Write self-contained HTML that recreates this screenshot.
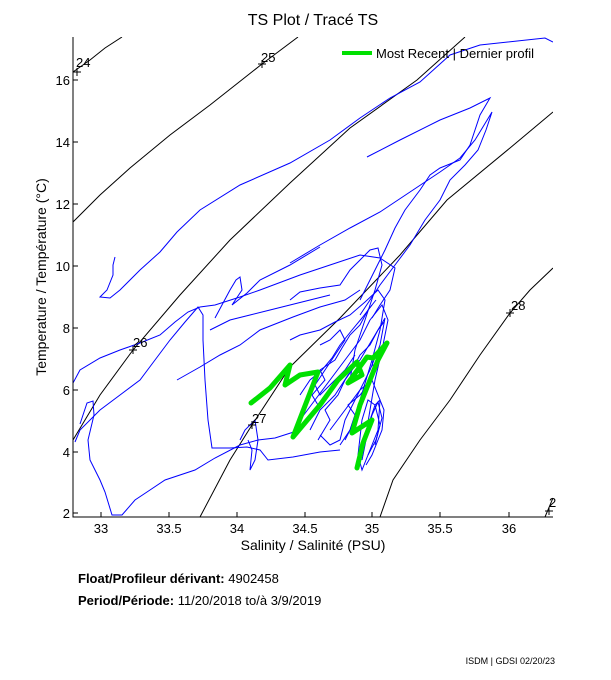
<!DOCTYPE html>
<html><head><meta charset="utf-8"><style>
body{margin:0;background:#fff;width:611px;height:675px;overflow:hidden;font-family:"Liberation Sans",sans-serif}
</style></head><body>
<svg width="611" height="675" xmlns="http://www.w3.org/2000/svg" font-family="Liberation Sans, sans-serif">
<rect width="611" height="675" fill="#fff"/>
<text x="313" y="25" font-size="16" text-anchor="middle">TS Plot / Tracé TS</text>
<defs><clipPath id="c"><rect x="73" y="37" width="480" height="480"/></clipPath></defs>
<g clip-path="url(#c)" fill="none">
<g stroke="#000" stroke-width="1">
<polyline points="73,72 90,60 105,48 122,37"/>
<polyline points="73,222 100,195 130,168 170,135 210,105 262,64 298,37"/>
<polyline points="73,440 100,395 133,350 180,295 230,240 290,183 350,128 417,80 465,37"/>
<polyline points="200,517 230,460 252,425 290,367 340,318 400,255 447,200 510,148 553,112"/>
<polyline points="380,517 393,480 420,440 450,400 480,355 510,313 530,290 553,268"/>
<polyline points="545,517 553,498"/>
</g>
<g stroke="#00f" stroke-width="1">
<polyline points="115,257 113,265 113,275 107,290 100,297 110,298 120,290 140,270 160,252 177,232 200,210 240,185 290,163 330,140 360,118 390,98 420,82 450,55 480,45 545,38 553,42"/>
<polyline points="367,157 400,140 440,120 470,108 490,98 480,115 475,130 470,145 460,160 440,168 430,175 420,190 405,210 395,228 385,250 375,270 365,290 360,300"/>
<polyline points="290,263 320,245 350,228 380,212 410,192 440,172 460,158 475,140 492,112 486,130 478,150 465,165 450,180 440,200 425,220 410,245 395,265 380,285 370,300 360,315"/>
<polyline points="73,383 80,370 100,358 120,350 140,343 160,335 175,322 188,312 200,307 215,305 240,297 260,290 300,275 330,265 360,255 380,258 395,268 390,290 380,305 372,318"/>
<polyline points="75,442 80,430 100,410 120,395 140,380 155,360 170,340 185,322 198,307 203,315 203,340 205,380 208,420 212,448 230,448 247,447 260,450 268,460 293,457 320,452 340,450"/>
<polyline points="80,424 87,403 93,401 94,415 88,440 90,460 100,480 105,492 112,515 122,515 135,500 150,490 165,480 195,470 215,458 240,445 258,440 275,438 300,430"/>
<polyline points="177,380 200,367 220,355 240,345 260,330 293,317 320,307 345,300 360,290"/>
<polyline points="215,318 230,290 236,280 240,277 242,290 232,305 247,293 260,280 290,265 320,247"/>
<polyline points="290,300 300,292 320,288 340,285 350,270 360,260 370,250 378,248 382,265 375,290 365,320 355,350 350,380"/>
<polyline points="290,340 300,335 320,330 335,322 350,315 365,302 378,290 385,300 380,330 372,360 360,400 350,430 345,440"/>
<polyline points="300,420 315,400 330,380 345,360 360,340 370,320 382,305 388,320 382,350 375,380 370,410 365,440 360,460"/>
<polyline points="310,430 320,410 335,395 348,375 360,360 375,335 385,318 380,345 370,370 355,400 345,420 340,440 330,445 320,435"/>
<polyline points="330,430 345,410 360,390 372,380 380,400 378,430 370,450 362,470 358,455 362,420 368,400 375,405 380,425 375,445"/>
<polyline points="240,440 245,430 255,420 258,440 255,460 250,470 252,450 248,440"/>
<polyline points="320,345 330,340 340,330 345,340 335,355 325,370 315,385 320,395 330,385 345,370 355,355"/>
<polyline points="210,330 230,320 250,315 270,310 290,305 310,300 330,295"/>
<polyline points="310,420 318,405 312,395 325,380 320,370 335,360 342,348 350,335 360,325 368,310 376,300"/>
<polyline points="318,440 330,420 325,410 338,395 345,380 352,370 360,355 370,345 378,330 384,322"/>
<polyline points="340,445 350,430 355,415 348,405 360,395 368,385 374,372 372,360 380,350"/>
<polyline points="362,460 366,440 370,420 375,405 380,400 384,410 382,430 378,440 372,455 366,465"/>
<polyline points="358,468 362,450 368,430 372,415 378,402 382,418 376,440 368,455"/>
<polyline points="300,395 310,380 322,370 332,358 340,345 352,330 362,318 372,305"/>
</g>
<polyline fill="none" stroke="#00e000" stroke-width="5" stroke-linejoin="round" stroke-linecap="round" points="251,403 270,388 290,365 285,385 300,375 318,372 293,437 320,405 338,380 357,362 362,375 348,383 367,357 373,358 387,343 378,360 370,380 360,405 352,433 372,420 363,443 357,468"/>
</g>
<g stroke="#000" stroke-width="1" fill="none">
<path d="M73,37V517H553"/>
<path d="M101,517v-5M169,517v-5M237,517v-5M305,517v-5M372,517v-5M440,517v-5M509,517v-5"/>
<path d="M73,80h5M73,142h5M73,204h5M73,266h5M73,328h5M73,390h5M73,452h5M73,513h5"/>
<path d="M73,72l8,0M77,68v8M258,64h8M262,60v8M129,350h8M133,346v8M248,425h8M252,421v8M506,313h8M510,309v8M545,511h8M549,507v8"/>
</g>
<g font-size="13" fill="#000">
<text x="76" y="67">24</text><text x="261" y="62">25</text><text x="133" y="347">26</text><text x="252" y="423">27</text><text x="511" y="310">28</text><text x="549" y="507">2</text>
</g>
<g font-size="13" text-anchor="middle">
<text x="101" y="533">33</text><text x="169" y="533">33.5</text><text x="237" y="533">34</text><text x="305" y="533">34.5</text><text x="372" y="533">35</text><text x="440" y="533">35.5</text><text x="509" y="533">36</text>
</g>
<g font-size="13" text-anchor="end">
<text x="70" y="85">16</text><text x="70" y="147">14</text><text x="70" y="209">12</text><text x="70" y="271">10</text><text x="70" y="333">8</text><text x="70" y="395">6</text><text x="70" y="457">4</text><text x="70" y="518">2</text>
</g>
<text x="313" y="550" font-size="14" text-anchor="middle">Salinity / Salinité (PSU)</text>
<text transform="translate(46,277) rotate(-90)" font-size="14" text-anchor="middle">Temperature / Température (°C)</text>
<line x1="342" y1="53" x2="372" y2="53" stroke="#00e000" stroke-width="4"/>
<text x="376" y="58" font-size="13">Most Recent | Dernier profil</text>
<text x="78" y="583" font-size="13"><tspan font-weight="bold">Float/Profileur dérivant:</tspan> 4902458</text>
<text x="78" y="605" font-size="13"><tspan font-weight="bold">Period/Période:</tspan> 11/20/2018  to/à  3/9/2019</text>
<text x="555" y="664" font-size="9" text-anchor="end">ISDM | GDSI  02/20/23</text>
</svg>
</body></html>
